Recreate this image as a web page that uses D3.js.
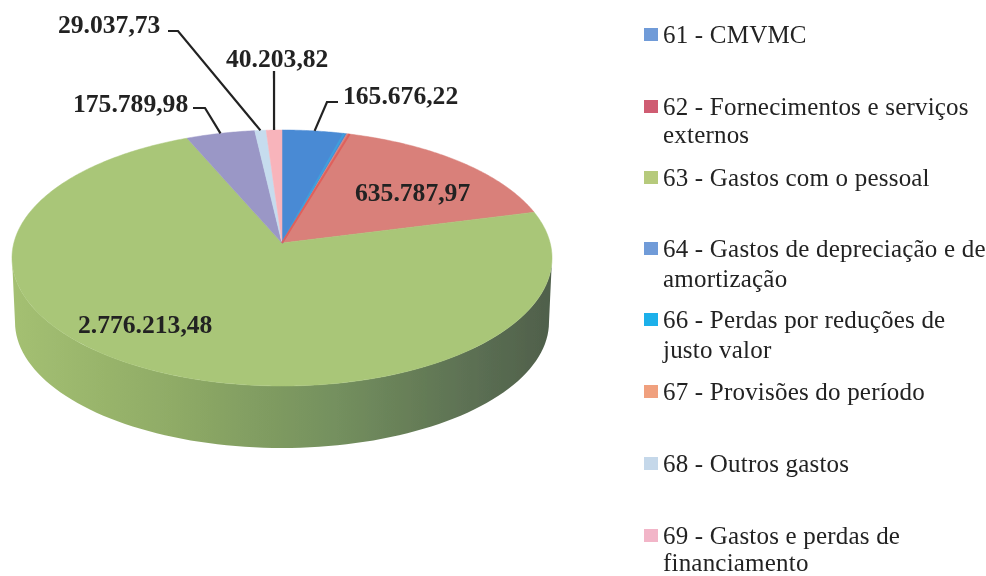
<!DOCTYPE html>
<html>
<head>
<meta charset="utf-8">
<script src="https://cdn.jsdelivr.net/npm/d3@7"></script>
<style>
  html, body { margin: 0; padding: 0; background: #fff; }
  text { font-family: "Liberation Serif", serif; fill: #232323; }
  .value { font-weight: bold; font-size: 25.6px; }
  .legend { font-size: 25px; letter-spacing: 0.2px; }
</style>
</head>
<body>
<div id="chart"></div>
<script>
// chart data
const codes = ['61', '62', '63', '64', '66', '67', '68', '69'];
const values = [165676.22, 635787.97, 2776213.48, 175789.98, 0, 0, 29037.73, 40203.82];
const valueLabels = ['165.676,22', '635.787,97', '2.776.213,48', '175.789,98', '', '', '29.037,73', '40.203,82'];
const legendLines = [
  ['61 - CMVMC'],
  ['62 - Fornecimentos e serviços', 'externos'],
  ['63 - Gastos com o pessoal'],
  ['64 - Gastos de depreciação e de', 'amortização'],
  ['66 - Perdas por reduções de', 'justo valor'],
  ['67 - Provisões do período'],
  ['68 - Outros gastos'],
  ['69 - Gastos e perdas de', 'financiamento']
];

// styling and layout, by code
const sliceColors = ['#4a8ad4', '#d9807a', '#a9c678', '#9a97c6', '#1eb0ea', '#f0a07e', '#c6dcee', '#f8b4bb'];
const legendColors = ['#6f9bd8', '#cf5c72', '#b6ca7c', '#6f9bd8', '#1eb0ea', '#f0a07e', '#c5d8ea', '#f2b5c8'];
const legendBaselines = [
  [43], [115, 143], [186], [257, 287], [328, 358], [400], [472], [544, 571]
];
const labelLayout = {
  '61': { x: 343, y: 104, leader: [[338, 102], [327, 102]] },
  '62': { x: 355, y: 201 },
  '63': { x: 78, y: 333 },
  '64': { x: 73, y: 112, leader: [[193, 108], [205, 108]] },
  '68': { x: 58, y: 33, leader: [[168, 31], [178, 31]] },
  '69': { x: 226, y: 67, leader: [[274, 71]] }
};

const width = 986, height = 576;
const pie = { cx: 282, cy: 258, rx: 270, ry: 128, apexY: 243, depthCy: 322, depthRx: 267, depthRy: 126 };

// the tilted disc: a projective map of the unit circle, so the centre lands on the apex
const k = (pie.cy - pie.apexY) / pie.ry;
function project(angle) {
  const ux = Math.sin(angle), uy = -Math.cos(angle);
  const d = 1 - k * uy;
  return [
    pie.cx + pie.rx * ux * Math.sqrt(1 - k * k) / d,
    pie.cy + pie.ry * (uy - k) / d
  ];
}

const svg = d3.select('#chart').append('svg')
  .attr('width', width)
  .attr('height', height)
  .style('display', 'block');

const defs = svg.append('defs');
const sideGradient = defs.append('linearGradient').attr('id', 'side-shade');
sideGradient.append('stop').attr('offset', '0%').attr('stop-color', '#a4c072');
sideGradient.append('stop').attr('offset', '30%').attr('stop-color', '#8fab66');
sideGradient.append('stop').attr('offset', '60%').attr('stop-color', '#74905e');
sideGradient.append('stop').attr('offset', '85%').attr('stop-color', '#5c7053');
sideGradient.append('stop').attr('offset', '100%').attr('stop-color', '#4f5f4b');

defs.append('filter').attr('id', 'scan-soft')
  .append('feGaussianBlur').attr('stdDeviation', 0.5);

const line = d3.line();
const root = svg.append('g').attr('filter', 'url(#scan-soft)');

// side wall
const front = d3.range(0, 181, 2).map(a => a * Math.PI / 180);
const sidePoints = [
  ...front.map(a => [pie.cx + pie.rx * Math.cos(a), pie.cy + pie.ry * Math.sin(a)]),
  ...front.slice().reverse().map(a => [pie.cx + pie.depthRx * Math.cos(a), pie.depthCy + pie.depthRy * Math.sin(a)])
];
root.append('path')
  .attr('d', line(sidePoints) + 'Z')
  .attr('fill', 'url(#side-shade)');

// top face
const arcs = d3.pie().sort(null)(values);
const sliceGroup = root.append('g');
arcs.forEach((arc, i) => {
  if (arc.value === 0) return;
  const steps = Math.max(2, Math.ceil((arc.endAngle - arc.startAngle) / 0.01));
  const rim = d3.range(steps + 1).map(s => project(arc.startAngle + (arc.endAngle - arc.startAngle) * s / steps));
  sliceGroup.append('path')
    .attr('d', line([[pie.cx, pie.apexY], ...rim]) + 'Z')
    .attr('fill', sliceColors[i])
    .attr('stroke', sliceColors[i])
    .attr('stroke-width', 0.5);
});

// brighter edges where the blue and red slices meet
const seam = arcs[0].endAngle;
sliceGroup.append('path')
  .attr('d', line([[pie.cx, pie.apexY], project(seam - 0.012)]))
  .attr('stroke', '#3f9fdc')
  .attr('stroke-width', 2)
  .attr('fill', 'none');
sliceGroup.append('path')
  .attr('d', line([[pie.cx, pie.apexY], project(seam + 0.012)]))
  .attr('stroke', '#e0605c')
  .attr('stroke-width', 2)
  .attr('fill', 'none');

// leaders run to the middle of the slice's rim
const leaderGroup = root.append('g');
const labelGroup = root.append('g');
arcs.forEach((arc, i) => {
  const layout = labelLayout[codes[i]];
  if (!layout) return;
  if (layout.leader) {
    const end = project((arc.startAngle + arc.endAngle) / 2);
    leaderGroup.append('path')
      .attr('d', line([...layout.leader, end]))
      .attr('fill', 'none')
      .attr('stroke', '#232323')
      .attr('stroke-width', 2.2);
  }
  labelGroup.append('text')
    .attr('class', 'value')
    .attr('x', layout.x)
    .attr('y', layout.y)
    .text(valueLabels[i]);
});

// legend
const legend = root.append('g');
codes.forEach((code, i) => {
  legend.append('rect')
    .attr('x', 644)
    .attr('y', legendBaselines[i][0] - 15)
    .attr('width', 14)
    .attr('height', 13)
    .attr('fill', legendColors[i]);
  legendLines[i].forEach((txt, j) => {
    legend.append('text')
      .attr('class', 'legend')
      .attr('x', 663)
      .attr('y', legendBaselines[i][j])
      .text(txt);
  });
});
</script>
</body>
</html>
